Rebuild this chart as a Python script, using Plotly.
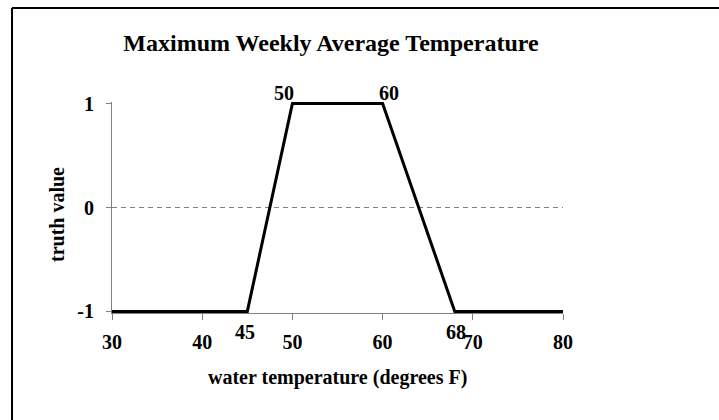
import plotly.graph_objects as go

# ---- data ----
temps = [30, 45, 50, 60, 68, 80]
truth = [-1, -1, 1, 1, -1, -1]
x_ticks = [30, 40, 50, 60, 70, 80]
y_ticks = [-1, 0, 1]
bp_x = [45, 50, 60, 68]
bp_y = [-1, 1, 1, -1]
bp_labels = ["45", "50", "60", "68"]
title_text = "Maximum Weekly Average Temperature"
x_title = "water temperature (degrees F)"
y_title = "truth value"

# ---- style ----
FONT = "Liberation Serif"
bp_xshift = [-2, -8, 6, 1]
bp_yshift = [-21, 11, 11, -21]

fig = go.Figure()
fig.add_trace(go.Scatter(x=[x_ticks[0], x_ticks[-1]], y=[0, 0], mode="lines",
                         line=dict(color="#808080", width=1, dash="5px,4px"),
                         hoverinfo="skip", showlegend=False))
fig.add_trace(go.Scatter(x=temps, y=truth, mode="lines",
                         line=dict(color="black", width=3),
                         showlegend=False))

for x, y, t, dx, dy in zip(bp_x, bp_y, bp_labels, bp_xshift, bp_yshift):
    fig.add_annotation(x=x, y=y, xref="x", yref="y", text=t, showarrow=False,
                       xanchor="center", yanchor="middle", xshift=dx, yshift=dy,
                       font=dict(family=FONT, size=20, color="black", weight="bold"))

fig.add_annotation(x=0.5, y=-0.308, xref="paper", yref="paper", text=x_title,
                   showarrow=False, xanchor="center", yanchor="middle",
                   font=dict(family=FONT, size=20, color="black", weight="bold"))
fig.add_annotation(x=-0.122, y=0.469, xref="paper", yref="paper", text=y_title,
                   showarrow=False, xanchor="center", yanchor="middle", textangle=-90,
                   font=dict(family=FONT, size=20, color="black", weight="bold"))

# chart-area border (left and top edges; right/bottom lie outside the picture)
fig.add_shape(type="line", xref="paper", yref="paper",
              x0=-0.2217, x1=-0.2217, y0=-1.0, y1=1.4455,
              line=dict(color="black", width=2))
fig.add_shape(type="line", xref="paper", yref="paper",
              x0=-0.2217, x1=1.6, y0=1.4455, y1=1.4455,
              line=dict(color="black", width=2))

fig.update_layout(
    width=719, height=420,
    margin=dict(l=112, r=156, t=102, b=107, pad=0),
    paper_bgcolor="white", plot_bgcolor="white",
    title=dict(text=title_text, x=331 / 719, xref="container", xanchor="center",
               y=1 - 43 / 420, yref="container", yanchor="middle",
               font=dict(family=FONT, size=24, color="black", weight="bold")),
    xaxis=dict(range=[30, 80], tickvals=x_ticks, ticktext=[str(v) for v in x_ticks],
               showline=True, linecolor="#808080", linewidth=1,
               ticks="outside", ticklen=6, tickcolor="#808080", tickwidth=1,
               showgrid=False, zeroline=False, ticklabelstandoff=5,
               tickfont=dict(family=FONT, size=20, color="black", weight="bold")),
    yaxis=dict(range=[-1.015, 1.015], tickvals=y_ticks, ticktext=[str(v) for v in y_ticks],
               showline=True, linecolor="#808080", linewidth=1,
               ticks="outside", ticklen=5, tickcolor="#808080", tickwidth=1,
               showgrid=False, zeroline=False, ticklabelstandoff=8,
               tickfont=dict(family=FONT, size=20, color="black", weight="bold")),
)

fig.write_html(
    "out.html",
    config={"displayModeBar": False},
    post_script=(
        "document.documentElement.style.overflow='hidden';"
        "document.body.style.margin='0';document.body.style.overflow='hidden';"
    ),
)
